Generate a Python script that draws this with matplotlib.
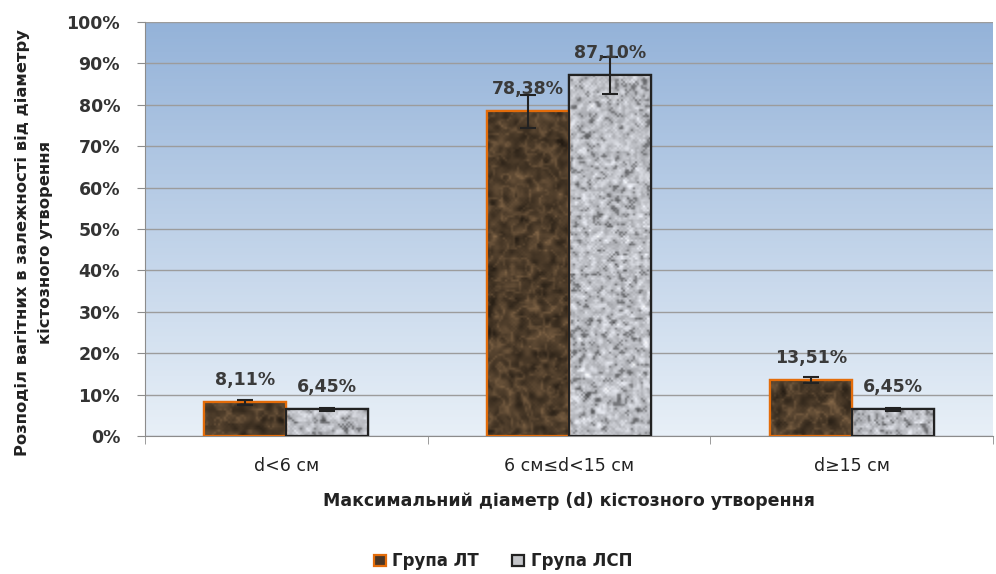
import numpy as np
import matplotlib
matplotlib.use("Agg")
import matplotlib.pyplot as plt
from matplotlib.patches import Patch

plt.rcParams['font.family'] = ['DejaVu Sans']

# data
categories = ['d<6 см', '6 см≤d<15 см', 'd≥15 см']
series_names = ['Група ЛТ', 'Група ЛСП']
lt_values = [8.11, 78.38, 13.51]
lsp_values = [6.45, 87.10, 6.45]
lt_err = [0.5, 4.0, 0.7]
lsp_err = [0.3, 4.4, 0.3]
lt_labels = ['8,11%', '78,38%', '13,51%']
lsp_labels = ['6,45%', '87,10%', '6,45%']

fig = plt.figure(figsize=(9.96, 5.74), dpi=100)
ax = fig.add_axes([0.1456, 0.2404, 0.8514, 0.7213])

# gradient background of the plot area
grad = np.linspace(0, 1, 256).reshape(-1, 1)
top = np.array([0.58, 0.70, 0.85])
bot = np.array([0.91, 0.94, 0.97])
bg = top + (bot - top) * grad[:, :, None]
ax.imshow(bg, extent=[0, 1, 0, 1], transform=ax.transAxes, aspect='auto', zorder=0)

x = np.arange(len(categories))
w = 0.29

# texture for the bar fills (styling only)
rng = np.random.default_rng(7)

def smooth(n, k):
    for _ in range(k):
        n = (n + np.roll(n, 1, 0) + np.roll(n, -1, 0) + np.roll(n, 1, 1) + np.roll(n, -1, 1)) / 5
    return n

def granite(h, w_):
    n = smooth(rng.normal(0, 1, (h, w_)), 1)
    n = n / n.std()
    g = 0.75 + 0.08 * n - 0.14 * (n < -1.2)
    img = np.stack([g * 0.98, g * 0.99, g * 1.02], axis=-1)
    return np.clip(img, 0, 1)

def marble(h, w_):
    n = smooth(rng.normal(0, 1, (h, w_)), 6)
    n = n / n.std()
    m = smooth(rng.normal(0, 1, (h, w_)), 3)
    m = m / m.std()
    veins = np.exp(-(n * 3.0) ** 2)
    l = 0.22 + 0.035 * m + 0.09 * veins
    base = np.array([1.28, 1.0, 0.70])
    return np.clip(l[:, :, None] * base[None, None, :], 0, 1)

def draw_bars(xs, vals, tex, face, edge):
    bars = ax.bar(xs, vals, w, facecolor=face, edgecolor=edge, linewidth=1.6, zorder=3)
    for b in bars:
        x0, y0 = b.get_x(), b.get_y()
        hp = max(int(b.get_height() * 4.14 / 2), 4)
        wp = int(82 / 2)
        im = ax.imshow(tex(hp, wp), extent=[x0, x0 + b.get_width(), y0, y0 + b.get_height()],
                       aspect='auto', zorder=3.5, interpolation='bilinear')
        im.set_clip_path(b)
        ax.bar(x0 + b.get_width() / 2, b.get_height(), w, facecolor='none', edgecolor=edge,
               linewidth=1.6, zorder=4)

draw_bars(x - w / 2, lt_values, marble, '#4a3626', '#e36c0a')
draw_bars(x + w / 2, lsp_values, granite, '#c4c5c9', '#222222')

ax.errorbar(x - w / 2, lt_values, yerr=lt_err, fmt='none', ecolor='#222222', elinewidth=1.5,
            capsize=6, capthick=1.5, zorder=5)
ax.errorbar(x + w / 2, lsp_values, yerr=lsp_err, fmt='none', ecolor='#222222', elinewidth=1.5,
            capsize=6, capthick=1.5, zorder=5)

for i in range(len(categories)):
    ax.text(x[i] - w / 2, lt_values[i] + 3.2, lt_labels[i], ha='center', va='bottom',
            fontsize=12.5, fontweight='bold', color='#3a3a3a', zorder=6)
    ax.text(x[i] + w / 2, lsp_values[i] + 3.2, lsp_labels[i], ha='center', va='bottom',
            fontsize=12.5, fontweight='bold', color='#3a3a3a', zorder=6)

ax.set_xlim(-0.5, 2.5)
ax.set_ylim(0, 100)
ax.set_yticks(np.arange(0, 101, 10))
ax.set_yticklabels([f'{v}%' for v in range(0, 101, 10)], fontsize=12.5, fontweight='bold', color='#333333')
ax.yaxis.grid(True, color='#9c9c9c', linewidth=1, zorder=1)
ax.set_axisbelow(True)

ax.set_xticks(x)
ax.set_xticklabels(categories, fontsize=12.5, color='#222222')
ax.set_xticks([-0.5, 0.5, 1.5, 2.5], minor=True)
ax.tick_params(axis='x', which='major', length=0, pad=15)
ax.tick_params(axis='x', which='minor', length=6, color='#8c8c8c', direction='out')
ax.tick_params(axis='y', length=6, color='#8c8c8c', direction='out', pad=12)

for s in ['top', 'right']:
    ax.spines[s].set_visible(False)
ax.spines['left'].set_color('#8c8c8c')
ax.spines['bottom'].set_color('#8c8c8c')

ax.set_ylabel('Розподіл вагітних в залежності від діаметру\nкістозного утворення',
              fontsize=11.8, fontweight='bold', color='#222222', linespacing=1.65)
ax.yaxis.set_label_coords(-0.109, 0.468)
ax.set_xlabel('Максимальний діаметр (d) кістозного утворення', fontsize=12.5, fontweight='bold',
              color='#222222', labelpad=12)

handles = [Patch(facecolor='#4a3626', edgecolor='#e36c0a', linewidth=1.6),
           Patch(facecolor='#c4c5c9', edgecolor='#222222', linewidth=1.6)]
fig.legend(handles, series_names, loc='lower center', bbox_to_anchor=(0.505, -0.02), ncol=2, frameon=False,
           prop={'size': 12, 'weight': 'bold'}, handlelength=0.7, handleheight=0.7, handletextpad=0.4,
           columnspacing=2.0, labelcolor='#222222')

fig.savefig('out.png', dpi=100)
